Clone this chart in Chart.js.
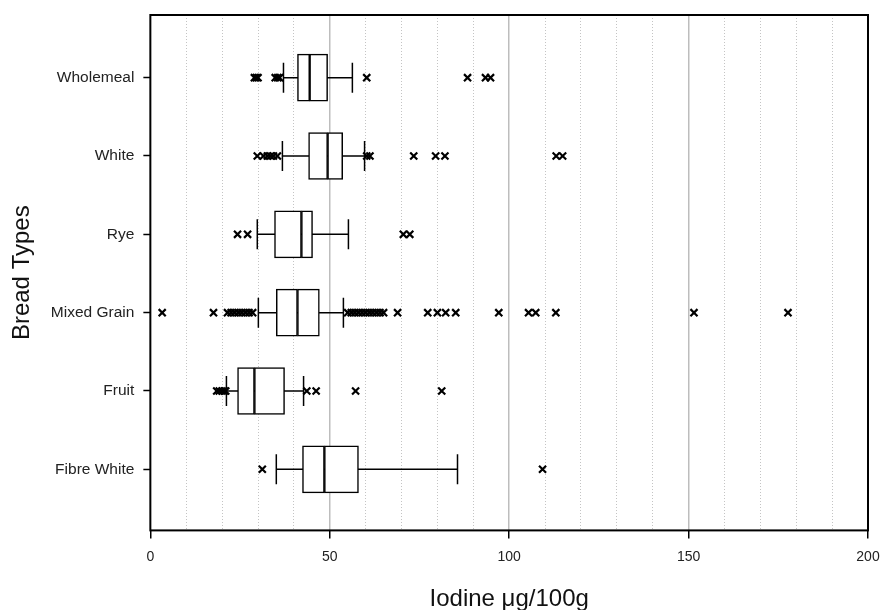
<!DOCTYPE html>
<html>
<head>
<meta charset="utf-8">
<script src="https://cdn.jsdelivr.net/npm/chart.js@4.4.1/dist/chart.umd.min.js"></script>
<style>
  html, body { margin: 0; padding: 0; background: #fff; overflow: hidden; }
</style>
</head>
<body>
<canvas id="chart" width="881" height="618"></canvas>
<script>
// box plot summary per bread type
const categories = ["Wholemeal", "White", "Rye", "Mixed Grain", "Fruit", "Fibre White"];
const whiskerLow = [37.1, 36.8, 29.8, 30.1, 21.2, 35.1];
const quartile1 = [41.0, 44.1, 34.6, 35.1, 24.3, 42.4];
const medians = [44.4, 49.4, 42.1, 41.0, 29.0, 48.5];
const quartile3 = [49.4, 53.6, 45.2, 47.1, 37.4, 58.0];
const whiskerHigh = [56.3, 59.7, 55.2, 53.8, 42.7, 85.6];
const outliers = [
  [29.0, 29.5, 30.0, 34.8, 35.5, 36.0, 60.3, 88.4, 93.4, 94.8],
  [29.8, 31.5, 32.6, 33.5, 34.3, 35.4, 60.3, 61.2, 73.4, 79.5, 82.1, 113.1, 114.9],
  [24.3, 27.1, 70.5, 72.3],
  [3.3, 17.6, 21.5, 22.5, 23.5, 24.5, 25.5, 26.5, 27.5, 28.5,
   55, 56, 57, 58, 59, 60, 61, 62, 63, 64, 65,
   68.9, 77.3, 80.0, 82.3, 85.1, 97.1, 105.4, 107.4, 113.0, 151.5, 177.7],
  [18.5, 19.2, 20.0, 20.6, 21.0, 43.6, 46.2, 57.2, 81.2],
  [31.2, 109.3]
];
const xTitle = "Iodine \u03bcg/100g";
const yTitle = "Bread Types";

// build the marks from the arrays above
var lowerBoxes = [], upperBoxes = [], whiskers = [], caps = [], points = [];
for (var i = 0; i < categories.length; i++) {
  var row = i + 1;
  lowerBoxes.push({ y: row, x: [quartile1[i], medians[i]] });
  upperBoxes.push({ y: row, x: [medians[i], quartile3[i]] });
  whiskers.push({ x: whiskerLow[i], y: row }, { x: whiskerHigh[i], y: row }, { x: null, y: null });
  caps.push({ x: whiskerLow[i], y: row }, { x: whiskerHigh[i], y: row });
  outliers[i].forEach(function (v) { points.push({ x: v, y: row }); });
}

var boxStyle = {
  type: "bar",
  indexAxis: "y",
  grouped: false,
  barThickness: 47,
  backgroundColor: "#fff",
  borderColor: "#000",
  borderWidth: 1.5,
  borderSkipped: false,
  order: 2
};

// black frame round the plot area
const frame = {
  id: "frame",
  afterDatasetsDraw(chart) {
    const a = chart.chartArea;
    const ctx = chart.ctx;
    ctx.save();
    ctx.strokeStyle = "#000";
    ctx.lineWidth = 2;
    ctx.strokeRect(a.left, a.top, a.right - a.left, a.bottom - a.top);
    ctx.restore();
  }
};

const config = {
  type: "scatter",
  data: {
    datasets: [
      {
        data: whiskers,
        showLine: true,
        borderColor: "#000",
        borderWidth: 1.5,
        pointRadius: 0,
        order: 3
      },
      Object.assign({ data: lowerBoxes }, boxStyle),
      Object.assign({ data: upperBoxes }, boxStyle),
      {
        data: caps,
        pointStyle: "line",
        rotation: 90,
        pointRadius: 15,
        borderColor: "#000",
        borderWidth: 1.5,
        order: 2
      },
      {
        data: points,
        pointStyle: "crossRot",
        pointRadius: 5,
        borderColor: "#000",
        borderWidth: 2.2,
        order: 1
      }
    ]
  },
  options: {
    responsive: false,
    animation: false,
    layout: { autoPadding: false, padding: { top: 15, right: 13, left: 0, bottom: 0 } },
    plugins: { legend: { display: false }, tooltip: { enabled: false } },
    scales: {
      x: {
        type: "linear",
        min: 0,
        max: 200,
        afterFit: function (scale) {
          scale.paddingLeft = 0;
          scale.paddingRight = 0;
        },
        ticks: {
          stepSize: 10,
          autoSkip: false,
          maxRotation: 0,
          padding: 10,
          color: "#222",
          font: { family: "'Liberation Sans', Arial, sans-serif", size: 14 },
          callback: function (v) { return v % 50 === 0 ? v : ""; }
        },
        grid: {
          tickLength: 8,
          tickWidth: 1.5,
          tickColor: function (ctx) {
            return ctx.tick && ctx.tick.value % 50 === 0 ? "#000" : "rgba(0,0,0,0)";
          },
          color: function (ctx) {
            var v = ctx.tick ? ctx.tick.value : 0;
            if (v === 0 || v === 200) return "rgba(0,0,0,0)";
            return v % 50 === 0 ? "#bdbdbd" : "#c4c4c4";
          },
          lineWidth: function (ctx) {
            return ctx.tick && ctx.tick.value % 50 === 0 ? 1.5 : 1;
          }
        },
        border: {
          display: false,
          dash: function (ctx) {
            return ctx.tick && ctx.tick.value % 50 !== 0 ? [1, 2] : [];
          }
        },
        title: {
          display: true,
          text: xTitle,
          color: "#111",
          font: { family: "'Liberation Sans', Arial, sans-serif", size: 24 },
          padding: { top: 10, bottom: 4 }
        }
      },
      y: {
        type: "linear",
        reverse: true,
        offset: false,
        min: 0.2,
        max: 6.78,
        afterBuildTicks: function (scale) {
          scale.ticks = categories.map(function (c, i) { return { value: i + 1 }; });
        },
        afterFit: function (scale) {
          scale.paddingTop = 0;
          scale.paddingBottom = 0;
        },
        ticks: {
          padding: 9,
          color: "#222",
          font: { family: "'Liberation Sans', Arial, sans-serif", size: 15.5 },
          callback: function (v) { return categories[v - 1]; }
        },
        grid: {
          offset: false,
          drawOnChartArea: false,
          tickLength: 7,
          tickWidth: 1.5,
          tickColor: "#000"
        },
        border: { display: false },
        title: {
          display: true,
          text: yTitle,
          color: "#111",
          font: { family: "'Liberation Sans', Arial, sans-serif", size: 24 },
          padding: { top: 8, bottom: 5 }
        }
      }
    }
  },
  plugins: [frame]
};

new Chart(document.getElementById("chart"), config);
</script>
</body>
</html>
